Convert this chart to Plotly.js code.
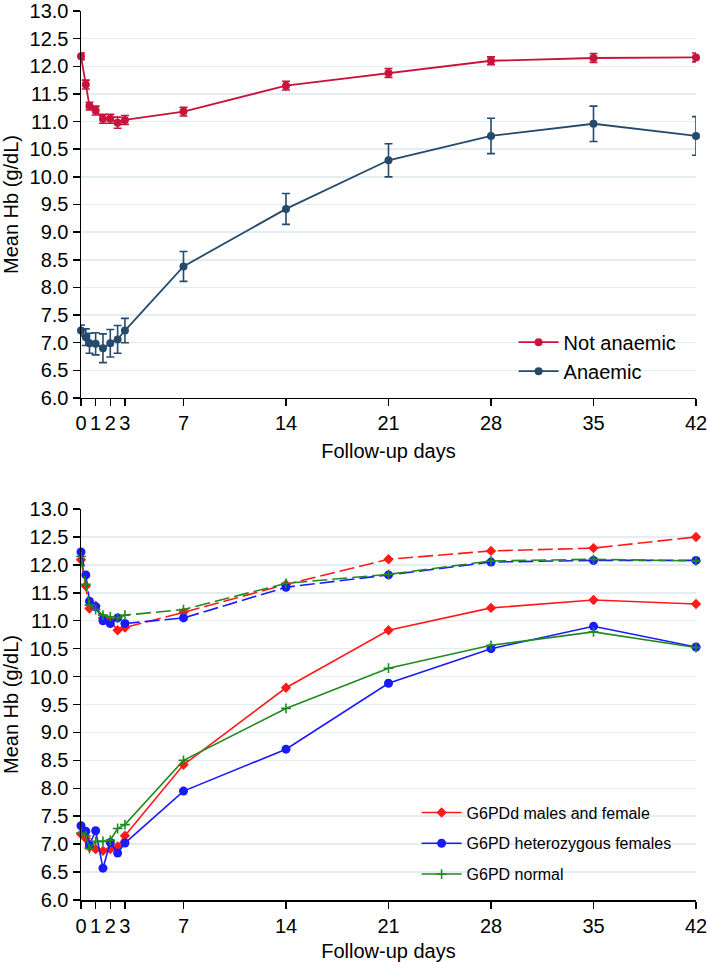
<!DOCTYPE html>
<html><head><meta charset="utf-8">
<script src="https://cdn.plot.ly/plotly-3.0.1.min.js"></script>
<style>html,body{margin:0;padding:0;background:#fff}</style>
</head><body><div id="chart" style="width:708px;height:962px"></div>
<script>
// Follow-up time points (days)
const days = [0, 0.33, 0.58, 1, 1.5, 2, 2.5, 3, 7, 14, 21, 28, 35, 42];
const xTickVals = [0, 1, 2, 3, 7, 14, 21, 28, 35, 42];
const yTickVals = [6, 6.5, 7, 7.5, 8, 8.5, 9, 9.5, 10, 10.5, 11, 11.5, 12, 12.5, 13];

// Top panel: mean Hb with error bars
const notAnaemic    = [12.18, 11.67, 11.28, 11.20, 11.05, 11.05, 10.98, 11.03, 11.18, 11.65, 11.88, 12.10, 12.15, 12.16];
const notAnaemicErr = [0.06, 0.08, 0.07, 0.08, 0.08, 0.08, 0.10, 0.08, 0.08, 0.08, 0.08, 0.07, 0.08, 0.08];
const anaemic       = [7.22, 7.10, 6.99, 6.98, 6.90, 6.99, 7.06, 7.22, 8.38, 9.42, 10.30, 10.74, 10.96, 10.74];
const anaemicErr    = [0.10, 0.15, 0.18, 0.20, 0.26, 0.25, 0.25, 0.22, 0.27, 0.28, 0.30, 0.32, 0.32, 0.35];

// Bottom panel: by G6PD status (dashed = not anaemic, solid = anaemic)
const g6pddNotAn  = [12.09, 11.62, 11.22, 11.27, 11.05, 11.00, 10.83, 10.88, 11.15, 11.65, 12.10, 12.25, 12.30, 12.50];
const hetNotAn    = [12.23, 11.82, 11.35, 11.25, 11.00, 10.95, 11.05, 10.95, 11.05, 11.60, 11.82, 12.05, 12.08, 12.08];
const normNotAn   = [12.15, 11.65, 11.28, 11.20, 11.10, 11.07, 11.05, 11.10, 11.20, 11.67, 11.83, 12.07, 12.10, 12.07];
const g6pddAn     = [7.18, 7.10, 6.95, 6.91, 6.88, 6.91, 6.96, 7.15, 8.42, 9.80, 10.83, 11.23, 11.37, 11.30];
const hetAn       = [7.33, 7.23, 6.99, 7.24, 6.57, 7.03, 6.84, 7.02, 7.95, 8.70, 9.88, 10.50, 10.90, 10.53];
const normAn      = [7.20, 7.15, 6.92, 7.05, 7.05, 7.07, 7.28, 7.35, 8.50, 9.43, 10.15, 10.56, 10.80, 10.52];

const names = ["Not anaemic", "Anaemic", "G6PDd males and female", "G6PD heterozygous females", "G6PD normal"];

const FONT = "Liberation Sans, Arial, sans-serif";
const cRed1 = "#c8143c", cBlue1 = "#264a6c";
const cRed = "#ff1a1a", cBlue = "#1a1aff", cGreen = "#1f8a1f";
const DASH = "15px,5px";

function errTrace(y, e, color, name) {
  return {x: days, y: y, type: "scatter", mode: "lines+markers", name: name,
    xaxis: "x", yaxis: "y", legend: "legend", cliponaxis: false,
    line: {color: color, width: 1.8},
    marker: {color: color, size: 8, symbol: "circle"},
    error_y: {type: "data", array: e, visible: true, color: color, thickness: 1.6, width: 4}};
}
function g6Trace(y, color, symbol, size, dash, name, show) {
  const m = {color: color, size: size, symbol: symbol};
  if (symbol.indexOf("thin") >= 0) m.line = {color: color, width: 1.6};
  return {x: days, y: y, type: "scatter", mode: "lines+markers", name: name,
    xaxis: "x2", yaxis: "y2", legend: "legend2", showlegend: show, cliponaxis: false,
    legendgroup: name,
    line: {color: color, width: 1.6, dash: dash}, marker: m};
}

const data = [
  errTrace(notAnaemic, notAnaemicErr, cRed1, names[0]),
  errTrace(anaemic, anaemicErr, cBlue1, names[1]),
  g6Trace(g6pddAn, cRed, "diamond", 8, "solid", names[2], true),
  g6Trace(hetAn, cBlue, "circle", 9, "solid", names[3], true),
  g6Trace(normAn, cGreen, "cross-thin", 7, "solid", names[4], true),
  g6Trace(g6pddNotAn, cRed, "diamond", 8, DASH, names[2], false),
  g6Trace(hetNotAn, cBlue, "circle", 9, DASH, names[3], false),
  g6Trace(normNotAn, cGreen, "cross-thin", 7, DASH, names[4], false)
];

function xax(anchor) {
  return {anchor: anchor, range: [0, 42], tickmode: "array", tickvals: xTickVals,
    ticktext: xTickVals.map(String), showline: true, linecolor: "#000", linewidth: 1.5,
    ticks: "outside", ticklen: 7, tickwidth: 1.5, tickcolor: "#000", showgrid: false, zeroline: false,
    ticklabeloverflow: "allow",
    tickfont: {family: FONT, size: 20, color: "#000"},
    title: {text: "Follow-up days", font: {family: FONT, size: 20, color: "#000"}, standoff: 10}};
}
function yax(anchor, domain) {
  return {anchor: anchor, domain: domain, range: [6, 13], tickmode: "array", tickvals: yTickVals,
    ticktext: yTickVals.map(v => v.toFixed(1)), showline: true, linecolor: "#000", linewidth: 1.5,
    ticks: "outside", ticklen: 7, tickwidth: 1.5, tickcolor: "#000",
    showgrid: true, gridcolor: "#e4edf0", gridwidth: 1.5, zeroline: false,
    ticklabeloverflow: "allow",
    tickfont: {family: FONT, size: 20, color: "#000"},
    title: {text: "Mean Hb (g/dL)", font: {family: FONT, size: 20, color: "#000"}, standoff: 10}};
}

const layout = {
  width: 708, height: 962,
  margin: {l: 81, r: 12, t: 11, b: 62},
  paper_bgcolor: "#fff", plot_bgcolor: "#fff",
  font: {family: FONT, color: "#000"},
  xaxis: xax("y"), yaxis: yax("x", [0.5647, 1]),
  xaxis2: xax("y2"), yaxis2: yax("x2", [0, 0.4398]),
  legend: {x: 0.7034, y: 0.6494, xanchor: "left", yanchor: "top", bgcolor: "rgba(0,0,0,0)",
    font: {family: FONT, size: 20, color: "#000"}, itemwidth: 40},
  legend2: {x: 0.5457, y: 0.1175, xanchor: "left", yanchor: "top", bgcolor: "rgba(0,0,0,0)",
    font: {family: FONT, size: 16, color: "#000"}, itemwidth: 40, traceorder: "grouped", tracegroupgap: 7},
  showlegend: true
};

Plotly.newPlot("chart", data, layout, {displayModeBar: false, staticPlot: true});
</script></body></html>
